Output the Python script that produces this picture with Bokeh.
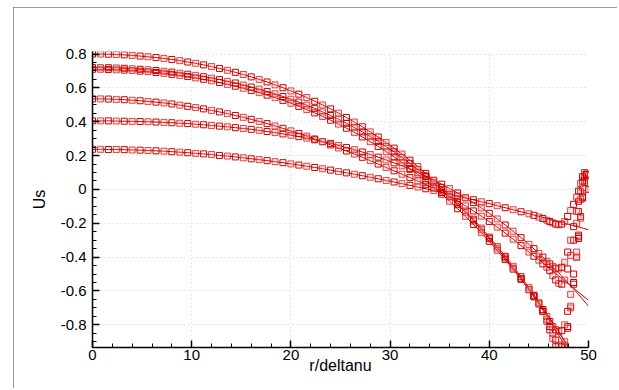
from bokeh.plotting import figure
from bokeh.models import Range1d, SingleIntervalTicker, CustomJSTickFormatter
from bokeh.embed import file_html
from bokeh.resources import INLINE

# ---------------- data ----------------
r_core = [0.0, 0.8, 1.6, 2.4, 3.2, 4.0, 4.8, 5.6, 6.4, 7.2, 8.0, 8.8, 9.6, 10.4, 11.2,
          12.0, 12.8, 13.6, 14.4, 15.2, 16.0, 16.8, 17.6, 18.4, 19.2, 20.0, 20.8, 21.6,
          22.4, 23.2, 24.0, 24.8, 25.6, 26.4, 27.2, 28.0, 28.8, 29.6, 30.4, 31.2, 32.0,
          32.8, 33.6, 34.4, 35.2, 36.0, 36.8, 37.6, 38.4, 39.2, 40.0, 40.8, 41.6, 42.4, 43.2]
r_tail = [44.0, 45.0, 46.0, 47.0, 48.0, 49.0, 50.0]
r_wall = [44.0, 44.5, 45.0, 45.4, 45.8, 46.1, 46.4, 46.7, 47.0, 47.3, 47.6, 47.9,
          48.2, 48.5, 48.8, 49.0, 49.2, 49.4, 49.6, 49.8, 50.0]

us_a_core = [0.800, 0.800, 0.799, 0.797, 0.795, 0.792, 0.788, 0.784, 0.779, 0.774,
             0.768, 0.761, 0.753, 0.745, 0.736, 0.726, 0.715, 0.704, 0.692, 0.679,
             0.665, 0.650, 0.635, 0.618, 0.601, 0.582, 0.563, 0.543, 0.521, 0.499,
             0.476, 0.451, 0.425, 0.398, 0.370, 0.340, 0.310, 0.277, 0.244, 0.209,
             0.173, 0.135, 0.095, 0.054, 0.012, -0.033, -0.079, -0.127, -0.176, -0.228,
             -0.282, -0.337, -0.395, -0.454, -0.516]
us_b_core = [0.720, 0.720, 0.719, 0.718, 0.716, 0.713, 0.710, 0.707, 0.703, 0.698,
             0.693, 0.687, 0.681, 0.674, 0.666, 0.658, 0.649, 0.639, 0.629, 0.617,
             0.605, 0.593, 0.579, 0.565, 0.549, 0.533, 0.516, 0.498, 0.479, 0.458,
             0.437, 0.415, 0.391, 0.366, 0.340, 0.312, 0.284, 0.253, 0.222, 0.189,
             0.154, 0.118, 0.080, 0.040, -0.002, -0.045, -0.090, -0.137, -0.186, -0.238,
             -0.291, -0.347, -0.405, -0.465, -0.528]
us_c_core = [0.710, 0.710, 0.709, 0.707, 0.705, 0.703, 0.699, 0.696, 0.691, 0.686,
             0.680, 0.674, 0.667, 0.659, 0.651, 0.642, 0.632, 0.621, 0.610, 0.598,
             0.585, 0.572, 0.557, 0.542, 0.526, 0.509, 0.491, 0.472, 0.452, 0.431,
             0.409, 0.386, 0.362, 0.337, 0.310, 0.282, 0.254, 0.223, 0.192, 0.159,
             0.124, 0.089, 0.051, 0.012, -0.028, -0.070, -0.114, -0.159, -0.207, -0.256,
             -0.307, -0.360, -0.415, -0.472, -0.531]
us_d_core = [0.535, 0.535, 0.534, 0.532, 0.530, 0.527, 0.524, 0.520, 0.516, 0.511,
             0.505, 0.498, 0.491, 0.484, 0.476, 0.467, 0.458, 0.448, 0.437, 0.426,
             0.414, 0.402, 0.389, 0.375, 0.361, 0.346, 0.331, 0.315, 0.298, 0.281,
             0.263, 0.245, 0.227, 0.209, 0.190, 0.170, 0.150, 0.130, 0.110, 0.090,
             0.070, 0.050, 0.028, 0.006, -0.017, -0.042, -0.069, -0.097, -0.127, -0.158,
             -0.190, -0.223, -0.258, -0.294, -0.332]
us_e_core = [0.405, 0.405, 0.405, 0.404, 0.403, 0.402, 0.401, 0.400, 0.398, 0.396,
             0.394, 0.391, 0.389, 0.385, 0.382, 0.378, 0.374, 0.370, 0.365, 0.360,
             0.355, 0.349, 0.342, 0.336, 0.328, 0.320, 0.312, 0.303, 0.293, 0.283,
             0.272, 0.260, 0.248, 0.235, 0.221, 0.206, 0.191, 0.174, 0.157, 0.139,
             0.119, 0.099, 0.077, 0.054, 0.031, 0.005, -0.021, -0.049, -0.078, -0.109,
             -0.141, -0.174, -0.210, -0.247, -0.285]
us_f_core = [0.237, 0.237, 0.236, 0.236, 0.235, 0.233, 0.232, 0.230, 0.228, 0.226,
             0.223, 0.220, 0.217, 0.213, 0.210, 0.206, 0.201, 0.197, 0.192, 0.187,
             0.181, 0.176, 0.170, 0.164, 0.158, 0.151, 0.144, 0.137, 0.130, 0.122,
             0.114, 0.106, 0.098, 0.090, 0.081, 0.072, 0.063, 0.053, 0.044, 0.034,
             0.024, 0.014, 0.004, -0.007, -0.017, -0.028, -0.039, -0.050, -0.061, -0.073,
             -0.084, -0.096, -0.108, -0.120, -0.132]

# line continuation (outer solution) towards r/deltanu = 50
us_a_tail = [-0.580, -0.664, -0.751, -0.841, -0.936, -1.035, -1.138]
us_b_tail = [-0.593, -0.678, -0.767, -0.861, -0.959, -1.061, -1.169]
us_c_tail = [-0.592, -0.672, -0.755, -0.842, -0.933, -1.028, -1.127]
us_d_tail = [-0.370, -0.416, -0.463, -0.511, -0.560, -0.608, -0.655]
us_e_tail = [-0.325, -0.378, -0.434, -0.493, -0.556, -0.621, -0.690]
us_f_tail = [-0.144, -0.159, -0.175, -0.190, -0.206, -0.222, -0.238]

# symbols near the wall (boundary layer)
us_a_wall = [-0.58, -0.625, -0.67, -0.72, -0.78, -0.83, -0.88, -0.93, -0.96, -0.96, -0.92,
             -0.82, -0.70, -0.56, -0.40, -0.28, -0.16, -0.04, 0.05, 0.09, 0.0]
us_b_wall = [-0.593, -0.635, -0.678, -0.72, -0.77, -0.81, -0.85, -0.89, -0.92, -0.93, -0.90,
             -0.81, -0.69, -0.55, -0.40, -0.29, -0.17, -0.05, 0.04, 0.085, 0.0]
us_c_wall = [-0.592, -0.63, -0.672, -0.71, -0.75, -0.78, -0.81, -0.83, -0.84, -0.835, -0.80,
             -0.72, -0.62, -0.50, -0.37, -0.27, -0.16, -0.05, 0.04, 0.08, 0.0]
us_d_wall = [-0.370, -0.395, -0.418, -0.44, -0.46, -0.48, -0.51, -0.535, -0.555, -0.56, -0.535,
             -0.47, -0.39, -0.30, -0.20, -0.13, -0.06, 0.01, 0.07, 0.085, 0.0]
us_e_wall = [-0.325, -0.35, -0.378, -0.40, -0.425, -0.44, -0.455, -0.465, -0.47, -0.46, -0.43,
             -0.37, -0.30, -0.22, -0.13, -0.07, -0.01, 0.05, 0.09, 0.09, 0.0]
us_f_wall = [-0.144, -0.153, -0.163, -0.172, -0.182, -0.19, -0.198, -0.205, -0.209, -0.205, -0.19,
             -0.16, -0.125, -0.088, -0.045, -0.01, 0.035, 0.075, 0.10, 0.09, 0.0]

curves = [
    (us_a_core, us_a_tail, us_a_wall),
    (us_b_core, us_b_tail, us_b_wall),
    (us_c_core, us_c_tail, us_c_wall),
    (us_d_core, us_d_tail, us_d_wall),
    (us_e_core, us_e_tail, us_e_wall),
    (us_f_core, us_f_tail, us_f_wall),
]

RED = "#cc0000"
FONT = "Liberation Sans"

p = figure(width=604, height=381, output_backend="svg", toolbar_location=None,
           x_range=Range1d(0, 50), y_range=Range1d(-0.934, 0.815),
           min_border_left=79, min_border_right=29, min_border_top=44, min_border_bottom=41,
           background_fill_color="white", border_fill_color="white")
p.margin = (7, 0, 0, 13)
p.styles = {"outline": "1px solid #7a7a7a", "outline-offset": "-1px"}
p.outline_line_color = None

for core, tail, wall in curves:
    lx = r_core + r_tail
    ly = core + tail
    p.line(lx, ly, line_color=RED, line_width=1)
    mx = r_core + r_wall
    my = core + wall
    p.scatter(mx[1::2], my[1::2], marker="square", size=6, line_color="#d42020",
              line_alpha=0.8, fill_color="#f2a0a0", fill_alpha=0.3)
    p.scatter(mx[0::2], my[0::2], marker="square", size=6, line_color=RED,
              line_width=1, fill_color=None)

p.xaxis.ticker = SingleIntervalTicker(interval=10, num_minor_ticks=5)
p.yaxis.ticker = SingleIntervalTicker(interval=0.2, num_minor_ticks=4)
p.yaxis.formatter = CustomJSTickFormatter(
    code="return Math.abs(tick) < 1e-9 ? '0' : tick.toFixed(1);")

p.xaxis.axis_label = "r/deltanu"
p.yaxis.axis_label = "Us"

for ax in (p.xaxis[0], p.yaxis[0]):
    ax.axis_line_color = "black"
    ax.axis_line_width = 1.5
    ax.major_tick_line_color = "black"
    ax.major_tick_line_width = 1.5
    ax.minor_tick_line_color = "black"
    ax.minor_tick_line_width = 1
    ax.major_tick_in = 7
    ax.major_tick_out = 0
    ax.minor_tick_in = 4
    ax.minor_tick_out = 0
    ax.major_label_text_font = FONT
    ax.major_label_text_font_size = "15px"
    ax.major_label_text_color = "black"
    ax.axis_label_text_font = FONT
    ax.axis_label_text_font_size = "16px"
    ax.axis_label_text_font_style = "normal"
    ax.axis_label_text_color = "black"

p.xaxis.major_label_standoff = 2
p.xaxis.axis_label_standoff = -6
p.yaxis.major_label_standoff = 6
p.yaxis.axis_label_standoff = 10

for g in (p.xgrid[0], p.ygrid[0]):
    g.grid_line_color = "#cfcfcf"
    g.grid_line_dash = "1 3"
    g.grid_line_width = 1

open("out.html", "w").write(file_html(p, INLINE))
